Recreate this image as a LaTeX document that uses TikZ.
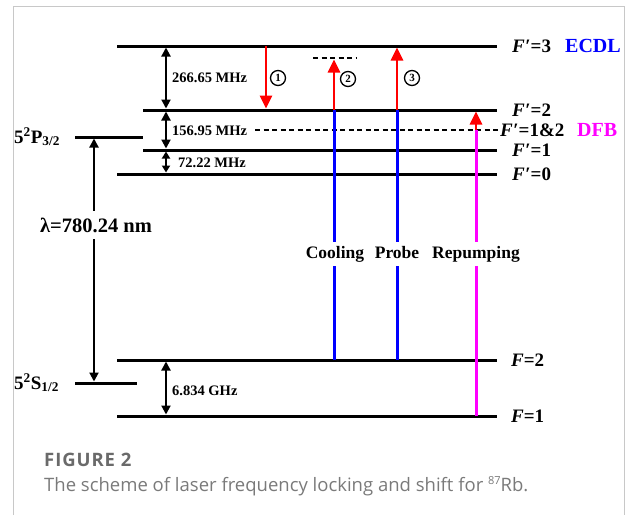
\documentclass[tikz,border=0pt]{standalone}
\usepackage{fontspec}
\setmainfont{Liberation Serif}
\newfontfamily\capfont{Open Sans}
\newfontfamily\capfontls[LetterSpace=5]{Open Sans}
\usetikzlibrary{arrows.meta}
\definecolor{framegrey}{HTML}{C8C8C8}
\definecolor{capgrey}{HTML}{6A6A6A}
\definecolor{capgreyl}{HTML}{7A7A7A}
\definecolor{mag}{HTML}{FF00FF}
\definecolor{ecdlblue}{HTML}{0000FF}
\newcommand{\fs}[1]{\fontsize{#1}{#1}\selectfont}
\newcommand{\Fp}{\textbf{\textit{F}\kern0.5pt\char"2032}}
\begin{document}
\begin{tikzpicture}[x=1pt,y=-1pt,
  level/.style={line width=3pt},
  gaparrow/.style={line width=2pt,{Triangle[length=9pt,width=9pt]}-{Triangle[length=9pt,width=9pt]},shorten <=1.5pt,shorten >=1.5pt},
  smallgap/.style={line width=2pt,{Triangle[length=7pt,width=8pt]}-{Triangle[length=7pt,width=8pt]},shorten <=1.5pt,shorten >=1.5pt},
  redarrow/.style={red,line width=2.6pt,-{Triangle[length=13pt,width=12pt]},shorten >=1.5pt},
  bluebeam/.style={ecdlblue,line width=3pt},
  magbeam/.style={mag,line width=3pt},
  dashedlevel/.style={line width=2.5pt,dash pattern=on 5pt off 3.5pt},
  freqlabel/.style={font=\bfseries\fs{14.5},anchor=west,inner sep=1pt},
  levlabel/.style={font=\fs{19},anchor=west,inner sep=0pt},
  beamlabel/.style={font=\bfseries\fs{17.5},fill=white,inner xsep=1pt,inner ysep=4pt,text height=12pt,text depth=4pt},
  circnum/.style={circle,draw,line width=1.3pt,inner sep=0pt,minimum size=15pt,font=\bfseries\fs{11}}
]
\useasboundingbox (0,0) rectangle (628,515);
% frame
\draw[framegrey,line width=1pt] (13,515) -- (13,6) -- (624,6) -- (624,515);

% level coordinates
\coordinate (p3L) at (117,46);  \coordinate (p3R) at (497,46);
\coordinate (p2L) at (143,110); \coordinate (p2R) at (497,110);
\coordinate (p1L) at (143,150); \coordinate (p1R) at (497,150);
\coordinate (p0L) at (117,174); \coordinate (p0R) at (497,174);
\coordinate (s2L) at (117,360); \coordinate (s2R) at (497,360);
\coordinate (s1L) at (117,416); \coordinate (s1R) at (497,416);
\coordinate (PL) at (75,137);   \coordinate (PR) at (143,137);
\coordinate (SL) at (75,383);   \coordinate (SR) at (137,383);
\coordinate (dL) at (255,130);  \coordinate (dR) at (500,130);
\coordinate (vL) at (313,58);   \coordinate (vR) at (357,58);

% levels
\draw[level] (p3L) -- (p3R);
\draw[level] (p2L) -- (p2R);
\draw[level] (p1L) -- (p1R);
\draw[level] (p0L) -- (p0R);
\draw[level] (s2L) -- (s2R);
\draw[level] (s1L) -- (s1R);
\draw[level] (PL) -- (PR);
\draw[level] (SL) -- (SR);
\draw[dashedlevel] (dL) -- (dR);
\draw[dashedlevel] (vL) -- (vR);

% left labels
\node[font=\bfseries\fs{19},anchor=west,inner sep=0pt] (lP) at (14,137) {5\textsuperscript{2}P\textsubscript{3/2}};
\node[font=\bfseries\fs{19},anchor=west,inner sep=0pt] (lS) at (14,383) {5\textsuperscript{2}S\textsubscript{1/2}};

% lambda arrow
\coordinate (lamTop) at (94,137);
\coordinate (lamBot) at (94,383);
\draw[line width=2pt,{Triangle[length=9pt,width=9pt]}-{Triangle[length=9pt,width=9pt]},shorten <=1.5pt,shorten >=1.5pt] (lamTop) -- (lamBot);
\node[font=\bfseries\fs{20.5},fill=white,inner xsep=1pt,inner ysep=7pt] (lam) at (96,225) {λ=780.24 nm};

% frequency gaps
\coordinate (g3) at (166,46);
\coordinate (g2) at (166,110);
\coordinate (g1) at (166,150);
\coordinate (g0) at (166,174);
\coordinate (gs2) at (166,360);
\coordinate (gs1) at (166,416);
\draw[gaparrow] (g3) -- (g2);
\draw[gaparrow] (g2) -- (g1);
\draw[smallgap] (g1) -- (g0);
\draw[gaparrow] (gs2) -- (gs1);
\node[freqlabel] (f1) at (171,78) {266.65 MHz};
\node[freqlabel] (f2) at (171,131) {156.95 MHz};
\node[freqlabel] (f3) at (177,163) {72.22 MHz};
\node[freqlabel] (f4) at (171,391) {6.834 GHz};

% beams
\coordinate (b1t) at (266,46);  \coordinate (b1b) at (266,110);
\coordinate (b2s) at (334,360); \coordinate (b2m) at (334,110); \coordinate (b2t) at (334,58);
\coordinate (b3s) at (397,360); \coordinate (b3m) at (397,110); \coordinate (b3t) at (397,46);
\coordinate (b4s) at (476,416); \coordinate (b4m) at (476,130); \coordinate (b4t) at (476,110);

\draw[redarrow] (b1t) -- (b1b);
\draw[bluebeam] (b2s) -- (b2m);
\draw[redarrow] (b2m) -- (b2t);
\draw[bluebeam] (b3s) -- (b3m);
\draw[redarrow] (b3m) -- (b3t);
\draw[magbeam] (b4s) -- (b4m);
\draw[redarrow] (b4m) -- (b4t);

\node[beamlabel] (cool) at (335,254) {Cooling};
\node[beamlabel] (probe) at (397,254) {Probe};
\node[beamlabel] (rep) at (476,254) {Repumping};

\node[circnum] (c1) at (278,78) {1};
\node[circnum] (c2) at (348,79) {2};
\node[circnum] (c3) at (412,78) {3};

% right labels
\node[levlabel] (r3) at (512,46) {\Fp\textbf{=3}};
\node[font=\bfseries\fs{20},text=ecdlblue,anchor=west,inner sep=0pt] (ecdl) at (565,46) {ECDL};
\node[levlabel] (r2) at (512,110) {\Fp\textbf{=2}};
\node[levlabel] (r12) at (500,130) {\Fp\textbf{=1\&2}};
\node[font=\bfseries\fs{20},text=mag,anchor=west,inner sep=0pt] (dfb) at (577,130) {DFB};
\node[levlabel] (r1) at (512,150) {\Fp\textbf{=1}};
\node[levlabel] (r0) at (512,174) {\Fp\textbf{=0}};
\node[levlabel] (q2) at (511,360) {\textbf{\textit{F}=2}};
\node[levlabel] (q1) at (511,416) {\textbf{\textit{F}=1}};

% caption
\node[font=\capfontls\bfseries\fs{18.5},text=capgrey,anchor=base west,inner sep=0pt] (cap1) at (44,466) {FIGURE 2};
\node[font=\capfont\fs{18.5},text=capgreyl,anchor=base west,inner sep=0pt] (cap2) at (44,491) {The scheme of laser frequency locking and shift for \raisebox{6.5pt}{\fs{11}87}Rb.};
\end{tikzpicture}
\end{document}
